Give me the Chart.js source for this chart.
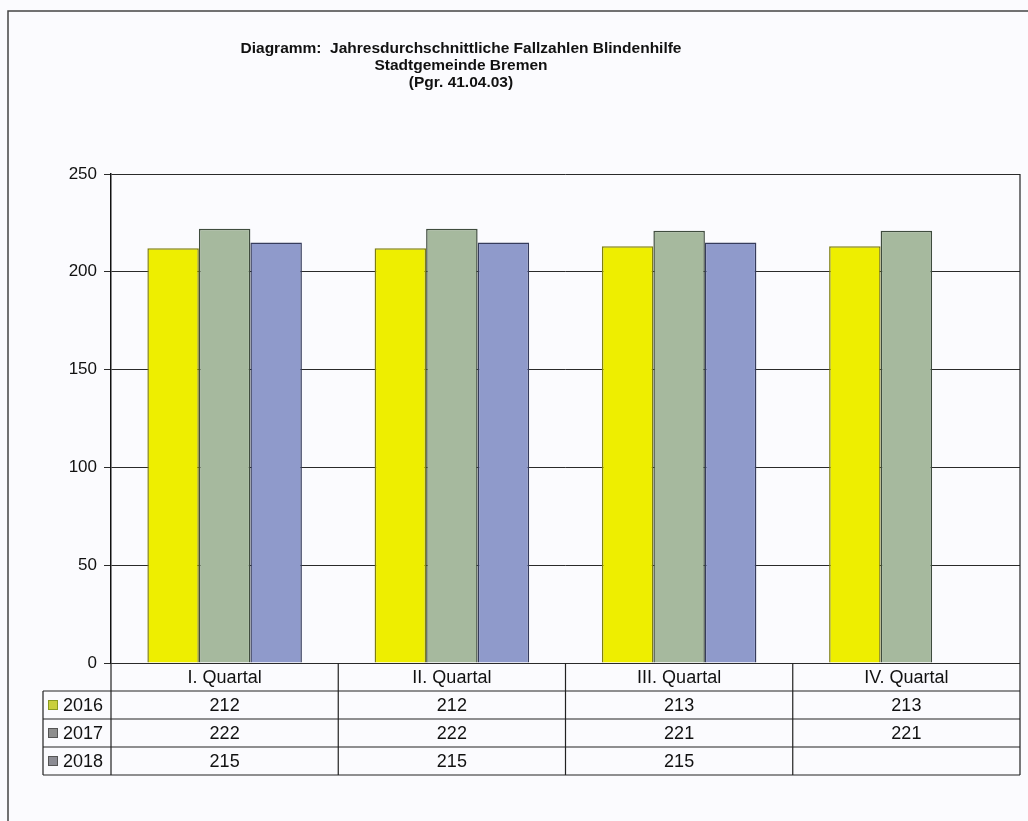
<!DOCTYPE html>
<html>
<head>
<meta charset="utf-8">
<script src="https://cdn.jsdelivr.net/npm/chart.js@4/dist/chart.umd.min.js"></script>
<style>
  html, body { margin: 0; padding: 0; background: #fbfbfe; }
  #wrap { width: 1028px; height: 821px; }
</style>
</head>
<body>
<div id="wrap"><canvas id="chart" width="1028" height="821"></canvas></div>
<script>
// Chart data
const titleLines = ['Diagramm:  Jahresdurchschnittliche Fallzahlen Blindenhilfe', 'Stadtgemeinde Bremen', '(Pgr. 41.04.03)'];
const quarters = ['I. Quartal', 'II. Quartal', 'III. Quartal', 'IV. Quartal'];
const years = ['2016', '2017', '2018'];
const cases2016 = [212, 212, 213, 213];
const cases2017 = [222, 222, 221, 221];
const cases2018 = [215, 215, 215, null];
const yTicks = [0, 50, 100, 150, 200, 250];

const fillColors = ['#eeee00', '#a6b99e', '#8f9acb'];
const edgeColors = ['#7f7f10', '#3f4c3e', '#363c5c'];
const swatchColors = ['#c9cf3c', '#8e8e8e', '#8c8c94'];

const FONT = '"Liberation Sans", Arial, sans-serif';

// draws the title, frame and the data table under the plot
const tablePlugin = {
    id: 'tablePlugin',
    afterDraw(chart) {
        const ctx = chart.ctx;
        const x = chart.scales.x;
        const area = chart.chartArea;
        const rowH = 28;
        const catW = (x.right - x.left) / quarters.length;
        const legLeft = 43;
        const top = area.bottom;
        const bottom = top + rowH * (years.length + 1);

        ctx.save();
        // outer frame of the scan
        ctx.strokeStyle = '#444';
        ctx.lineWidth = 1.5;
        ctx.beginPath();
        ctx.moveTo(8, 821); ctx.lineTo(8, 11); ctx.lineTo(1028, 11);
        ctx.stroke();

        // title
        ctx.fillStyle = '#111';
        ctx.textAlign = 'center';
        ctx.textBaseline = 'alphabetic';
        ctx.font = 'bold 15.5px ' + FONT;
        titleLines.forEach((t, i) => ctx.fillText(t, 461, 53 + i * 17));

        // right border of plot
        ctx.strokeStyle = '#222';
        ctx.lineWidth = 1.2;
        ctx.beginPath();
        ctx.moveTo(area.right, area.top); ctx.lineTo(area.right, area.bottom);
        ctx.stroke();

        // table grid
        ctx.beginPath();
        for (let r = 1; r <= years.length + 1; r++) {
            const yy = top + r * rowH;
            ctx.moveTo(legLeft, yy); ctx.lineTo(x.right, yy);
        }
        for (let i = 0; i <= quarters.length; i++) {
            const xx = x.left + i * catW;
            ctx.moveTo(xx, top); ctx.lineTo(xx, bottom);
        }
        ctx.moveTo(legLeft, top + rowH); ctx.lineTo(legLeft, bottom);
        ctx.stroke();

        // header + values
        ctx.font = '18px ' + FONT;
        ctx.textBaseline = 'middle';
        ctx.textAlign = 'center';
        const series = [cases2016, cases2017, cases2018];
        quarters.forEach((q, i) => {
            const cx = x.getPixelForValue(i);
            ctx.fillText(q, cx, top + rowH / 2 + 1);
            series.forEach((s, r) => {
                if (s[i] !== null) ctx.fillText(String(s[i]), cx, top + (r + 1.5) * rowH + 1);
            });
        });

        // legend column
        ctx.textAlign = 'left';
        years.forEach((yr, r) => {
            const cy = top + (r + 1.5) * rowH;
            ctx.fillStyle = swatchColors[r];
            ctx.fillRect(48, cy - 5, 10, 10);
            ctx.strokeStyle = r === 0 ? '#8a9a20' : '#555';
            ctx.lineWidth = 1;
            ctx.strokeRect(48.5, cy - 4.5, 9, 9);
            ctx.fillStyle = '#111';
            ctx.fillText(yr, 63, cy + 1);
        });
        ctx.restore();
    }
};

const ctx = document.getElementById('chart').getContext('2d');
new Chart(ctx, {
    type: 'bar',
    data: {
        labels: quarters,
        datasets: [cases2016, cases2017, cases2018].map((d, i) => ({
            label: years[i],
            data: d,
            backgroundColor: fillColors[i],
            borderColor: edgeColors[i],
            borderWidth: 1.5,
            categoryPercentage: 0.68,
            barPercentage: 1.0
        }))
    },
    options: {
        responsive: false,
        animation: false,
        layout: { padding: { left: 0, right: 8, top: 174, bottom: 158 } },
        plugins: { legend: { display: false }, tooltip: { enabled: false }, title: { display: false } },
        scales: {
            x: { display: false },
            y: {
                min: 0, max: 250,
                afterBuildTicks: (s) => { s.ticks = yTicks.map(v => ({ value: v })); },
                afterFit: (s) => { s.width = 111; },
                ticks: { color: '#111', padding: 7, font: { family: FONT, size: 17 } },
                grid: { color: '#2a2a2a', lineWidth: 1, tickLength: 7 },
                border: { color: '#111', width: 1.5 }
            }
        }
    },
    plugins: [tablePlugin]
});
</script>
</body>
</html>
